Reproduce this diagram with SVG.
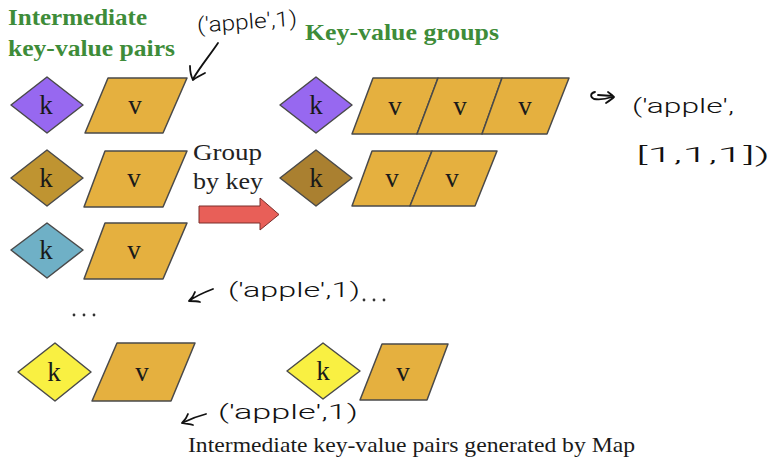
<svg xmlns="http://www.w3.org/2000/svg" width="773" height="459" viewBox="0 0 773 459">
  <defs>
    <style>
      .bg { fill: #ffffff; }
      .title { font-family: "Liberation Serif", "DejaVu Serif", serif; font-weight: bold; font-size: 24px; fill: #3e8c39; }
      .lbl { font-family: "Liberation Serif", "DejaVu Serif", serif; font-size: 27px; fill: #1a1a1a; text-anchor: middle; }
      .plain { font-family: "Liberation Serif", "DejaVu Serif", serif; font-size: 24px; fill: #222222; }
      .cap { font-family: "Liberation Serif", "DejaVu Serif", serif; font-size: 21px; fill: #1a1a1a; }
      .val { fill: #e5b03f; stroke: #4a4a4a; stroke-width: 1.5; stroke-linejoin: round; }
      .key { stroke: #4a4a4a; stroke-width: 1.5; stroke-linejoin: round; }
      .purple { fill: #9768f0; }
      .brown { fill: #bf9431; }
      .brown2 { fill: #aa8030; }
      .blue { fill: #6fb0c6; }
      .yellow { fill: #f9f042; }
      .hand { font-family: Roboto, "Open Sans", "DejaVu Sans", sans-serif; font-weight: 300; font-size: 21px; fill: #111111; }
      .ink { fill: none; stroke: #111111; stroke-width: 1.8; stroke-linecap: round; stroke-linejoin: round; }
      .dots { fill: #333333; }
    </style>
  </defs>

  <rect class="bg" x="0" y="0" width="773" height="459"/>

  <!-- Headings -->
  <g id="heading-left">
    <text class="title" x="8" y="25" textLength="139" lengthAdjust="spacingAndGlyphs">Intermediate</text>
    <text class="title" x="8" y="56" textLength="167" lengthAdjust="spacingAndGlyphs">key-value pairs</text>
  </g>
  <g id="heading-right">
    <text class="title" x="305" y="40" textLength="194" lengthAdjust="spacingAndGlyphs">Key-value groups</text>
  </g>

  <!-- Left column: individual pairs -->
  <g id="pair-1">
    <polygon class="key purple" points="11,105 47,77 83,105 47,133"/>
    <text class="lbl" x="46" y="114">k</text>
    <polygon class="val" points="108,78 187,78 163,133 85,133"/>
    <text class="lbl" x="135" y="114">v</text>
  </g>
  <g id="pair-2">
    <polygon class="key brown" points="11,178 47,150 83,178 47,206"/>
    <text class="lbl" x="46" y="187">k</text>
    <polygon class="val" points="105,151 187,151 163,207 84,207"/>
    <text class="lbl" x="134" y="187">v</text>
  </g>
  <g id="pair-3">
    <polygon class="key blue" points="11,250 47,223 83,250 47,278"/>
    <text class="lbl" x="46" y="259">k</text>
    <polygon class="val" points="105,223 187,223 163,279 84,279"/>
    <text class="lbl" x="134" y="259">v</text>
  </g>
  <g id="pair-ellipsis">
    <circle class="dots" cx="74" cy="315" r="1.4"/>
    <circle class="dots" cx="84" cy="315" r="1.4"/>
    <circle class="dots" cx="94" cy="315" r="1.4"/>
  </g>
  <g id="pair-last">
    <polygon class="key yellow" points="18,372 55,343 91,372 55,401"/>
    <text class="lbl" x="54" y="381">k</text>
    <polygon class="val" points="117,343 195,343 171,401 92,401"/>
    <text class="lbl" x="142" y="381">v</text>
  </g>

  <!-- Right column: grouped values -->
  <g id="group-1">
    <polygon class="key purple" points="280,105 316,77 352,105 316,133"/>
    <text class="lbl" x="316" y="114">k</text>
    <polygon class="val" points="373,78 438,78 417,134 352,134"/>
    <polygon class="val" points="438,78 502,78 482,134 417,134"/>
    <polygon class="val" points="502,78 569,78 547,134 482,134"/>
    <text class="lbl" x="395" y="115">v</text>
    <text class="lbl" x="460" y="115">v</text>
    <text class="lbl" x="525" y="115">v</text>
  </g>
  <g id="group-2">
    <polygon class="key brown2" points="280,178 316,150 352,178 316,206"/>
    <text class="lbl" x="316" y="187">k</text>
    <polygon class="val" points="372,151 432,151 410,206 352,206"/>
    <polygon class="val" points="432,151 497,151 475,206 410,206"/>
    <text class="lbl" x="392" y="187">v</text>
    <text class="lbl" x="452" y="187">v</text>
  </g>
  <g id="group-ellipsis">
    <circle class="dots" cx="364" cy="300" r="1.4"/>
    <circle class="dots" cx="374" cy="300" r="1.4"/>
    <circle class="dots" cx="384" cy="300" r="1.4"/>
  </g>
  <g id="group-last">
    <polygon class="key yellow" points="287,371 323,343 360,371 323,399"/>
    <text class="lbl" x="323" y="380">k</text>
    <polygon class="val" points="382,344 448,344 427,400 360,400"/>
    <text class="lbl" x="403" y="381">v</text>
  </g>

  <!-- Operation label -->
  <g id="group-by-key">
    <text class="plain" x="193" y="160" textLength="69" lengthAdjust="spacingAndGlyphs">Group</text>
    <text class="plain" x="193" y="189" textLength="70" lengthAdjust="spacingAndGlyphs">by key</text>
  </g>

  <!-- Connectors -->
  <g id="connectors">
    <polygon points="199,206 260,206 260,198 279,214.5 260,230 260,223 199,223" fill="#e85f58" stroke="#7a2e2a" stroke-width="1"/>
    <!-- hand-drawn pointers -->
    <path class="ink" d="M218,43 C210,55 200,67 193,79"/>
    <path class="ink" d="M190,66 C190,72 191,76 193,80 C197,77 201,75 205,73"/>
    <path class="ink" d="M612,97 C606,99 600,100 594,99 M594,99 C590,97 590,93 595,92 M598,95 L613,96 M608,92 C611,94 613,96 614,97 C612,99 609,101 606,103"/>
    <path class="ink" d="M213,289 C205,292 196,296 189,301 M189,301 C192,298 194,295 195,292 M189,301 C193,301 197,301 200,302"/>
    <path class="ink" d="M206,414 C198,416 190,419 182,423 M182,423 C185,420 187,417 188,414 M182,423 C186,424 190,424 193,425"/>
  </g>

  <!-- Handwritten notes -->
  <g id="notes">
    <text class="hand" x="197" y="29" textLength="100" lengthAdjust="spacingAndGlyphs" transform="rotate(-4 247 22)">('apple',1)</text>
    <text class="hand" x="632" y="113" textLength="102" lengthAdjust="spacingAndGlyphs">('apple',</text>
    <text class="hand" x="636" y="162" textLength="134" lengthAdjust="spacingAndGlyphs">[1,1,1])</text>
    <text class="hand" x="228" y="297" textLength="132" lengthAdjust="spacingAndGlyphs">('apple',1)</text>
    <text class="hand" x="218" y="419" textLength="140" lengthAdjust="spacingAndGlyphs">('apple',1)</text>
  </g>

  <!-- Caption -->
  <g id="caption">
    <text class="cap" x="188" y="452" textLength="447" lengthAdjust="spacingAndGlyphs">Intermediate key-value pairs generated by Map</text>
  </g>
</svg>
